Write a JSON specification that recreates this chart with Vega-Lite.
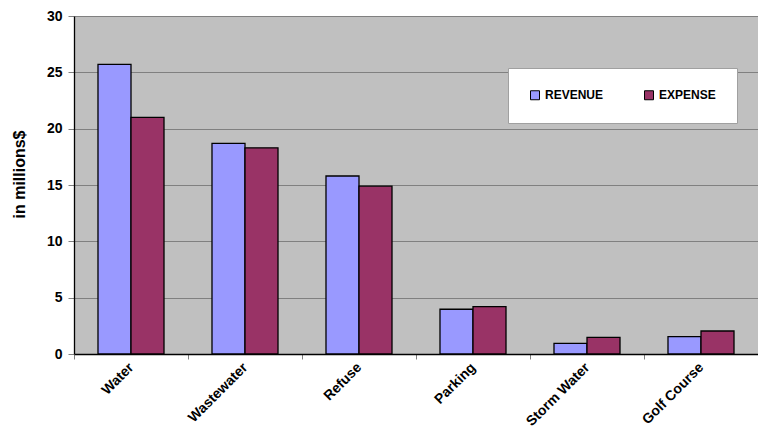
{
  "$schema": "https://vega.github.io/schema/vega-lite/v6.json",
  "autosize": {"type": "none"},
  "width": 684,
  "height": 338,
  "padding": {"left": 74, "top": 16, "right": 0, "bottom": 88},
  "background": "white",
  "config": {
    "font": "Liberation Sans",
    "view": {"fill": "#C0C0C0", "stroke": null}
  },
  "data": {
    "values": [
      {"fund": "Water", "kind": "REVENUE", "amount": 25.7},
      {"fund": "Water", "kind": "EXPENSE", "amount": 21.0},
      {"fund": "Wastewater", "kind": "REVENUE", "amount": 18.7},
      {"fund": "Wastewater", "kind": "EXPENSE", "amount": 18.3},
      {"fund": "Refuse", "kind": "REVENUE", "amount": 15.8},
      {"fund": "Refuse", "kind": "EXPENSE", "amount": 14.9},
      {"fund": "Parking", "kind": "REVENUE", "amount": 3.97},
      {"fund": "Parking", "kind": "EXPENSE", "amount": 4.2},
      {"fund": "Storm Water", "kind": "REVENUE", "amount": 0.95},
      {"fund": "Storm Water", "kind": "EXPENSE", "amount": 1.48},
      {"fund": "Golf Course", "kind": "REVENUE", "amount": 1.54},
      {"fund": "Golf Course", "kind": "EXPENSE", "amount": 2.04}
    ]
  },
  "mark": {"type": "bar", "stroke": "black", "strokeWidth": 1.3},
  "encoding": {
    "x": {
      "field": "fund",
      "type": "nominal",
      "sort": ["Water", "Wastewater", "Refuse", "Parking", "Storm Water", "Golf Course"],
      "scale": {"paddingInner": 0, "paddingOuter": 0},
      "axis": {
        "title": null,
        "tickBand": "extent",
        "labelAngle": -45,
        "labelAlign": "right",
        "labelBaseline": "middle",
        "labelPadding": 6,
        "labelFont": "Liberation Sans",
        "labelFontSize": 14,
        "labelFontWeight": "bold",
        "labelColor": "black",
        "labelLimit": 200,
        "domainColor": "black",
        "domainWidth": 1.3,
        "tickColor": "#808080",
        "tickSize": 5,
        "grid": false
      }
    },
    "xOffset": {
      "field": "kind",
      "type": "nominal",
      "scale": {"domain": ["REVENUE", "EXPENSE"], "paddingInner": 0, "paddingOuter": 0.727}
    },
    "y": {
      "field": "amount",
      "type": "quantitative",
      "scale": {"domain": [0, 30], "nice": false},
      "axis": {
        "title": "in millions$",
        "titleFont": "Liberation Sans",
        "titleFontSize": 16,
        "titleFontWeight": "bold",
        "titleColor": "black",
        "titlePadding": 19,
        "titleY": 158,
        "values": [0, 5, 10, 15, 20, 25, 30],
        "labelFont": "Liberation Sans",
        "labelFontSize": 14,
        "labelFontWeight": "bold",
        "labelColor": "black",
        "labelPadding": 6,
        "domainColor": "black",
        "domainWidth": 1.3,
        "tickColor": "#808080",
        "tickSize": 6,
        "grid": true,
        "gridColor": "#808080",
        "gridWidth": 1
      }
    },
    "color": {
      "field": "kind",
      "type": "nominal",
      "scale": {"domain": ["REVENUE", "EXPENSE"], "range": ["#9999FF", "#993366"]},
      "legend": {
        "title": null,
        "orient": "none",
        "legendX": 434,
        "legendY": 52,
        "direction": "horizontal",
        "fillColor": "white",
        "strokeColor": "#A0A0A0",
        "padding": 21,
        "columnPadding": 38,
        "symbolType": "square",
        "symbolSize": 81,
        "symbolStrokeColor": "black",
        "symbolStrokeWidth": 1,
        "symbolOpacity": 1,
        "labelFont": "Liberation Sans",
        "labelFontSize": 12,
        "labelFontWeight": "bold",
        "labelColor": "black",
        "labelOffset": 4
      }
    }
  }
}
